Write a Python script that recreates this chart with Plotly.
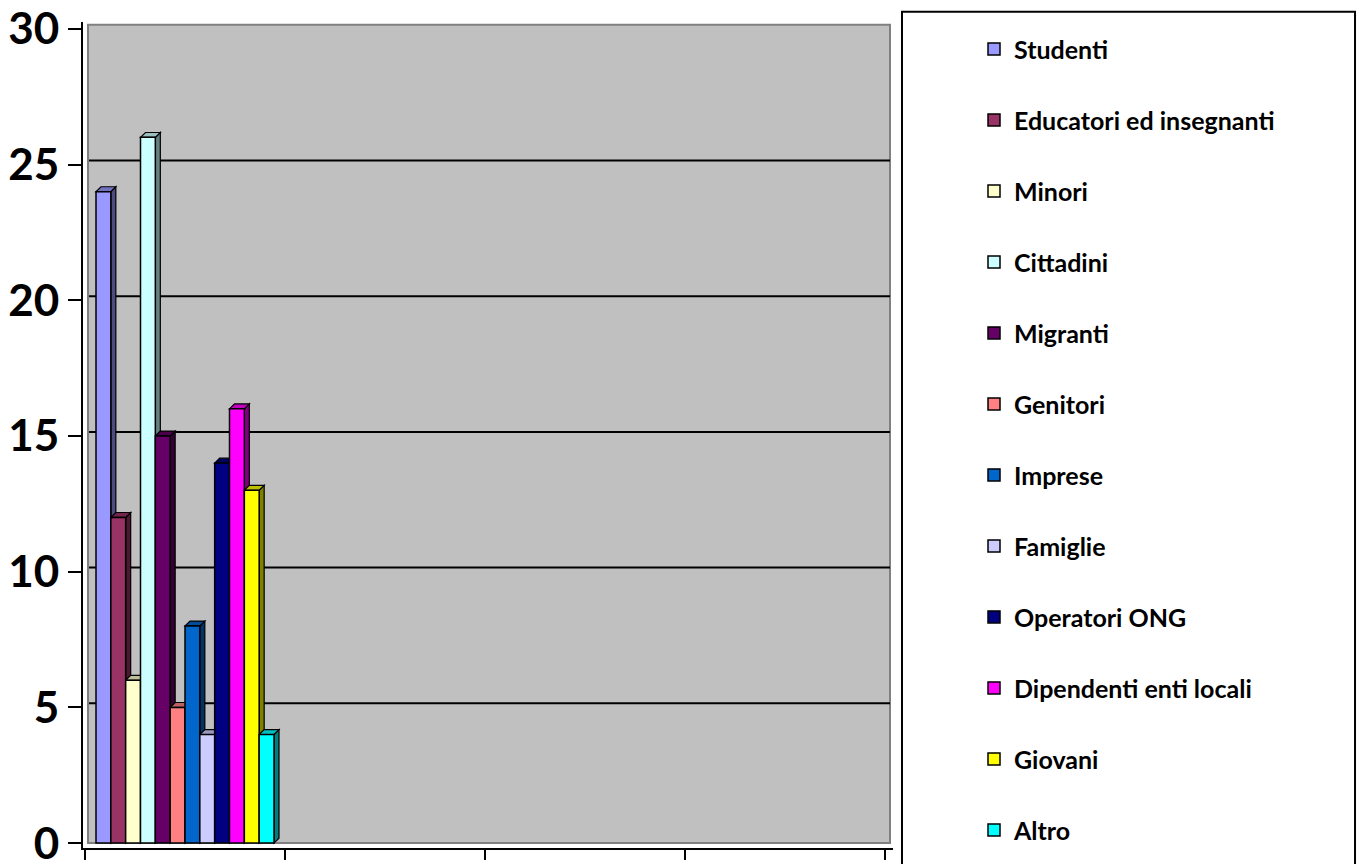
import plotly.graph_objects as go

series_names = ["Studenti", "Educatori ed insegnanti", "Minori", "Cittadini", "Migranti",
                "Genitori", "Imprese", "Famiglie", "Operatori ONG", "Dipendenti enti locali",
                "Giovani", "Altro"]
series_values = [24, 12, 6, 26, 15, 5, 8, 4, 14, 16, 13, 4]
series_colors = ["#9999FF", "#993366", "#FFFFCC", "#CCFFFF", "#660066", "#FF8080",
                 "#0066CC", "#CCCCFF", "#000080", "#FF00FF", "#FFFF00", "#00FFFF"]
category_x = 0.5
y_ticks = [0, 5, 10, 15, 20, 25, 30]

BARGAP = 0.11
DX, DY = 0.025, 0.18


def shade(hexc, f):
    r, g, b = int(hexc[1:3], 16), int(hexc[3:5], 16), int(hexc[5:7], 16)
    return "#%02X%02X%02X" % (int(r * f), int(g * f), int(b * f))


fig = go.Figure()
for i, (n, v, c) in enumerate(zip(series_names, series_values, series_colors)):
    fig.add_trace(go.Bar(x=[category_x], y=[v], name=n, legendgroup=n,
                         marker=dict(color=c, line=dict(color="black", width=1.5)),
                         hoverinfo="name+y"))

shapes = []
# back wall
shapes.append(dict(type="rect", xref="x", yref="y", x0=0.015, x1=4.025, y0=0, y1=30.15,
                   fillcolor="#C0C0C0", line=dict(color="#808080", width=2), layer="below"))
for t in y_ticks[1:-1]:
    shapes.append(dict(type="line", xref="x", yref="y", x0=0.02, x1=4.025, y0=t + 0.15, y1=t + 0.15,
                       line=dict(color="black", width=2), layer="below"))

n = len(series_values)
w = (1 - BARGAP) / n
start = category_x - (1 - BARGAP) / 2
for i, (v, c) in enumerate(zip(series_values, series_colors)):
    x0 = start + i * w
    x1 = x0 + w
    side = f"M{x1},0 L{x1 + DX},{DY} L{x1 + DX},{v + DY} L{x1},{v} Z"
    top = f"M{x0},{v} L{x0 + DX},{v + DY} L{x1 + DX},{v + DY} L{x1},{v} Z"
    shapes.append(dict(type="path", xref="x", yref="y", path=side, fillcolor=shade(c, 0.5),
                       line=dict(color="black", width=1.2), layer="between"))
    shapes.append(dict(type="path", xref="x", yref="y", path=top, fillcolor=shade(c, 0.75),
                       line=dict(color="black", width=1.2), layer="between"))

# legend frame
shapes.append(dict(type="rect", xref="paper", yref="paper", x0=1.0111, x1=1.5704, y0=-0.03, y1=1.0125,
                   line=dict(color="black", width=2), fillcolor="rgba(0,0,0,0)", layer="above"))

fig.update_layout(
    width=1358, height=864,
    margin=dict(l=83, r=465, t=22, b=16, autoexpand=False),
    paper_bgcolor="white", plot_bgcolor="white",
    barmode="group", bargap=BARGAP, bargroupgap=0,
    showlegend=True,
    legend=dict(x=1.1, y=0.995, xanchor="left", yanchor="top", maxheight=900,
                font=dict(family="Lato", size=25, color="black", weight="bold"),
                tracegroupgap=35.5, bgcolor="rgba(0,0,0,0)", borderwidth=0,
                traceorder="grouped"),
    shapes=shapes,
    xaxis=dict(range=[-0.01, 4.04], tickvals=[0, 1, 2, 3, 4], showticklabels=False,
               ticks="outside", ticklen=10, tickwidth=2, tickcolor="black", automargin=False,
               showline=True, linecolor="black", linewidth=2, showgrid=False, zeroline=False),
    yaxis=dict(range=[-0.18, 30.25], tickvals=y_ticks, ticks="outside", ticklen=13,
               tickwidth=2, tickcolor="black", showline=True, linecolor="black", linewidth=2,
               showgrid=False, zeroline=False, automargin=False, ticklabeloverflow="allow",
               tickfont=dict(family="Lato", size=44, color="black", weight="bold")),
)

fig.write_html("out.html", config={"displayModeBar": False},
               post_script="document.body.style.margin='0';document.body.style.overflow='hidden';")
